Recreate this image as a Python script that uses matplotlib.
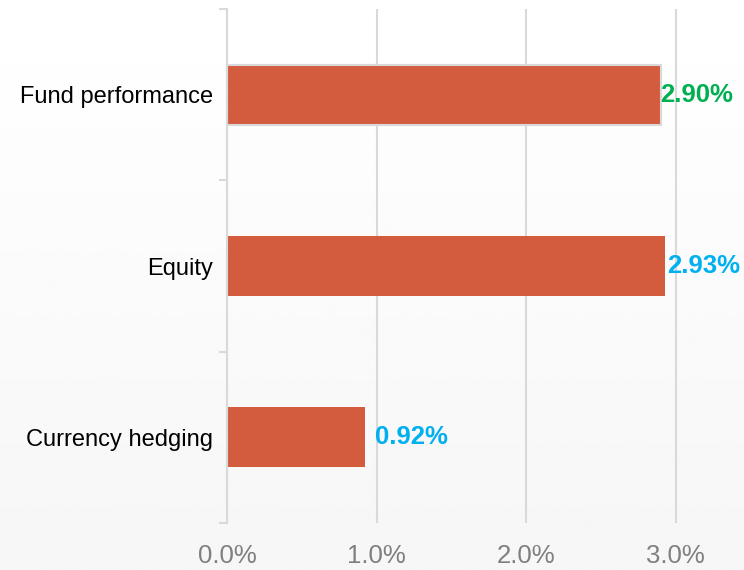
import matplotlib.pyplot as plt
import numpy as np

categories = ["Fund performance", "Equity", "Currency hedging"]
values = [2.90, 2.93, 0.92]
label_colors = ["#00B050", "#00B0F0", "#00B0F0"]
label_offsets = [0, 2, 10]  # px gap between bar end and label
x_ticks = [0.0, 1.0, 2.0, 3.0]

bar_color = "#D35C3F"
grid_color = "#D9D9D9"

plt.rcParams["font.family"] = ["Liberation Sans", "DejaVu Sans"]

fig = plt.figure(figsize=(7.44, 5.70), dpi=100)

# soft vertical gradient behind everything
bg = fig.add_axes([0, 0, 1, 1], zorder=-1)
grad = np.linspace(1.0, 0.965, 256).reshape(-1, 1)
bg.imshow(grad, aspect="auto", cmap="gray", vmin=0, vmax=1, extent=[0, 1, 0, 1])
bg.axis("off")

ax = fig.add_axes([227 / 744, 47 / 570, 517 / 744, 514 / 570])
ax.patch.set_alpha(0)

y = np.arange(len(categories))
bars = ax.barh(y, values, height=0.35, color=bar_color, zorder=3)
bars[0].set_edgecolor("#D9D9D9")
bars[0].set_linewidth(1.5)

for b, v, c, off in zip(bars, values, label_colors, label_offsets):
    ax.annotate(f"{v:.2f}%", xy=(b.get_width(), b.get_y() + b.get_height() / 2),
                xytext=(off * 72 / 100, 0), textcoords="offset points",
                ha="left", va="center", fontsize=18.5, fontweight="bold",
                color=c, zorder=4)

ax.set_xlim(0, 517 / 149.5)
ax.set_ylim(len(categories) - 0.5, -0.5)

ax.set_xticks(x_ticks)
ax.set_xticklabels([f"{t:.1f}%" for t in x_ticks])
ax.set_yticks(y)
ax.set_yticklabels(categories)
ax.set_yticks(np.arange(-0.5, len(categories)), minor=True)

ax.tick_params(axis="x", length=0, pad=15, labelsize=18.5, labelcolor="#7F7F7F")
ax.tick_params(axis="y", which="major", length=0, pad=10, labelsize=17, labelcolor="black")
ax.tick_params(axis="y", which="minor", length=6, width=1.5, color=grid_color)

ax.grid(axis="x", color=grid_color, linewidth=1.5, zorder=0)
for s in ["top", "right", "bottom"]:
    ax.spines[s].set_visible(False)
ax.spines["left"].set_color(grid_color)
ax.spines["left"].set_linewidth(1.5)
ax.spines["left"].set_zorder(5)

fig.savefig("out.png", dpi=100)
